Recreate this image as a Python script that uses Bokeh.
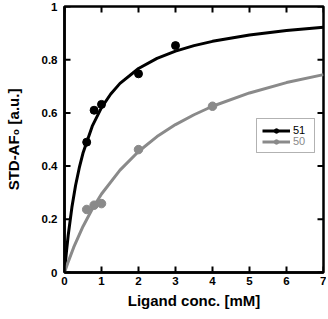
from bokeh.plotting import figure
from bokeh.models import (Range1d, FixedTicker, Legend, LegendItem, BoxAnnotation)
from bokeh.embed import file_html
from bokeh.resources import INLINE

# measured points
conc_51 = [0.6, 0.8, 1.0, 2.0, 3.0]
std_51 = [0.49, 0.61, 0.632, 0.747, 0.853]
conc_50 = [0.6, 0.8, 1.0, 2.0, 4.0]
std_50 = [0.237, 0.253, 0.259, 0.462, 0.625]

# fitted curves
fit_x_51 = [0, 0.05, 0.1, 0.2, 0.3, 0.4, 0.5, 0.75, 1.0, 1.25, 1.5, 2.0, 2.5, 3.0, 3.5, 4.0, 5.0, 6.0, 7.0]
fit_y_51 = [0, 0.075, 0.140, 0.245, 0.328, 0.394, 0.449, 0.550, 0.620, 0.671, 0.711, 0.767, 0.805, 0.832, 0.853, 0.869, 0.893, 0.910, 0.922]
fit_x_50 = [0, 0.1, 0.25, 0.5, 0.75, 1.0, 1.5, 2.0, 2.5, 3.0, 3.5, 4.0, 5.0, 6.0, 7.0]
fit_y_50 = [0, 0.040, 0.095, 0.173, 0.239, 0.295, 0.385, 0.455, 0.511, 0.556, 0.593, 0.625, 0.675, 0.714, 0.744]

x_ticks = [0, 1, 2, 3, 4, 5, 6, 7]
y_ticks = [0, 0.2, 0.4, 0.6, 0.8, 1.0]
y_tick_labels = {0: "0", 0.2: "0.2", 0.4: "0.4", 0.6: "0.6", 0.8: "0.8", 1.0: "1"}
x_title = "Ligand conc. [mM]"
y_title = "STD-AF\u2080 [a.u.]"

BLACK = "#000000"
GRAY = "#8a8a8a"
FONT = "Liberation Sans"
X_MIN, X_MAX, Y_MIN, Y_MAX = 0, 7, 0, 1

W, H = 326, 311
BL, BR, BT, BB = 64, 3, 6, 39
p = figure(width=W, height=H, x_range=Range1d(X_MIN, X_MAX), y_range=Range1d(Y_MIN, Y_MAX),
           output_backend="svg", toolbar_location=None,
           min_border_left=BL, min_border_right=BR, min_border_top=BT, min_border_bottom=BB)
p.xgrid.visible = False
p.ygrid.visible = False
p.outline_line_color = BLACK
p.outline_line_width = 2.5
p.border_fill_color = "white"

for ax in (p.xaxis[0], p.yaxis[0]):
    ax.axis_line_width = 2.5
    ax.major_tick_line_color = None
    ax.major_tick_in = 0
    ax.major_tick_out = 0
    ax.minor_tick_line_color = None
    ax.major_label_text_font = FONT
    ax.major_label_text_font_style = "bold"
    ax.major_label_text_font_size = "11.5px"
    ax.major_label_text_color = BLACK
    ax.axis_label_text_font = FONT
    ax.axis_label_text_font_style = "bold"
    ax.axis_label_text_font_size = "15px"
    ax.axis_label_text_color = BLACK

p.xaxis[0].ticker = FixedTicker(ticks=x_ticks)
p.xaxis[0].major_label_standoff = 4
p.xaxis[0].axis_label = x_title
p.xaxis[0].axis_label_standoff = 4

p.yaxis[0].ticker = FixedTicker(ticks=y_ticks)
p.yaxis[0].major_label_overrides = y_tick_labels
p.yaxis[0].major_label_standoff = 7
p.yaxis[0].axis_label = y_title
p.yaxis[0].axis_label_standoff = 17

# inward tick marks on all four sides (6 px long)
frame_w = W - BL - BR
frame_h = H - BT - BB
tx = 6 * (X_MAX - X_MIN) / frame_w
ty = 6 * (Y_MAX - Y_MIN) / frame_h
p.segment(x0=x_ticks, y0=[Y_MIN] * len(x_ticks), x1=x_ticks, y1=[Y_MIN + ty] * len(x_ticks),
          line_color=BLACK, line_width=2)
p.segment(x0=x_ticks, y0=[Y_MAX] * len(x_ticks), x1=x_ticks, y1=[Y_MAX - ty] * len(x_ticks),
          line_color=BLACK, line_width=2)
p.segment(x0=[X_MIN] * len(y_ticks), y0=y_ticks, x1=[X_MIN + tx] * len(y_ticks), y1=y_ticks,
          line_color=BLACK, line_width=2)
p.segment(x0=[X_MAX] * len(y_ticks), y0=y_ticks, x1=[X_MAX - tx] * len(y_ticks), y1=y_ticks,
          line_color=BLACK, line_width=2)

l51 = p.line(fit_x_51, fit_y_51, line_color=BLACK, line_width=3)
l50 = p.line(fit_x_50, fit_y_50, line_color=GRAY, line_width=3)
s51 = p.scatter(conc_51, std_51, size=8, fill_color=BLACK, line_color=BLACK)
s50 = p.scatter(conc_50, std_50, size=8.5, fill_color=GRAY, line_color=GRAY)

def mk_legend(label, rends, color, loc):
    return Legend(items=[LegendItem(label=label, renderers=rends)], location=loc,
                  glyph_width=28, glyph_height=11, label_height=11, label_standoff=3,
                  padding=0, margin=0, spacing=0, border_line_alpha=0, border_line_width=0,
                  background_fill_alpha=0, label_text_font=FONT, label_text_font_size="11px",
                  label_text_color=color)

p.add_layout(mk_legend("51", [l51, s51], BLACK, (198, 136)))
p.add_layout(mk_legend("50", [l50, s50], GRAY, (198, 125)))
p.add_layout(BoxAnnotation(left=192, right=250, bottom=120, top=154,
                           left_units="screen", right_units="screen",
                           top_units="screen", bottom_units="screen",
                           fill_alpha=0, line_color=BLACK, line_width=1))

open("out.html", "w").write(file_html(p, INLINE))
